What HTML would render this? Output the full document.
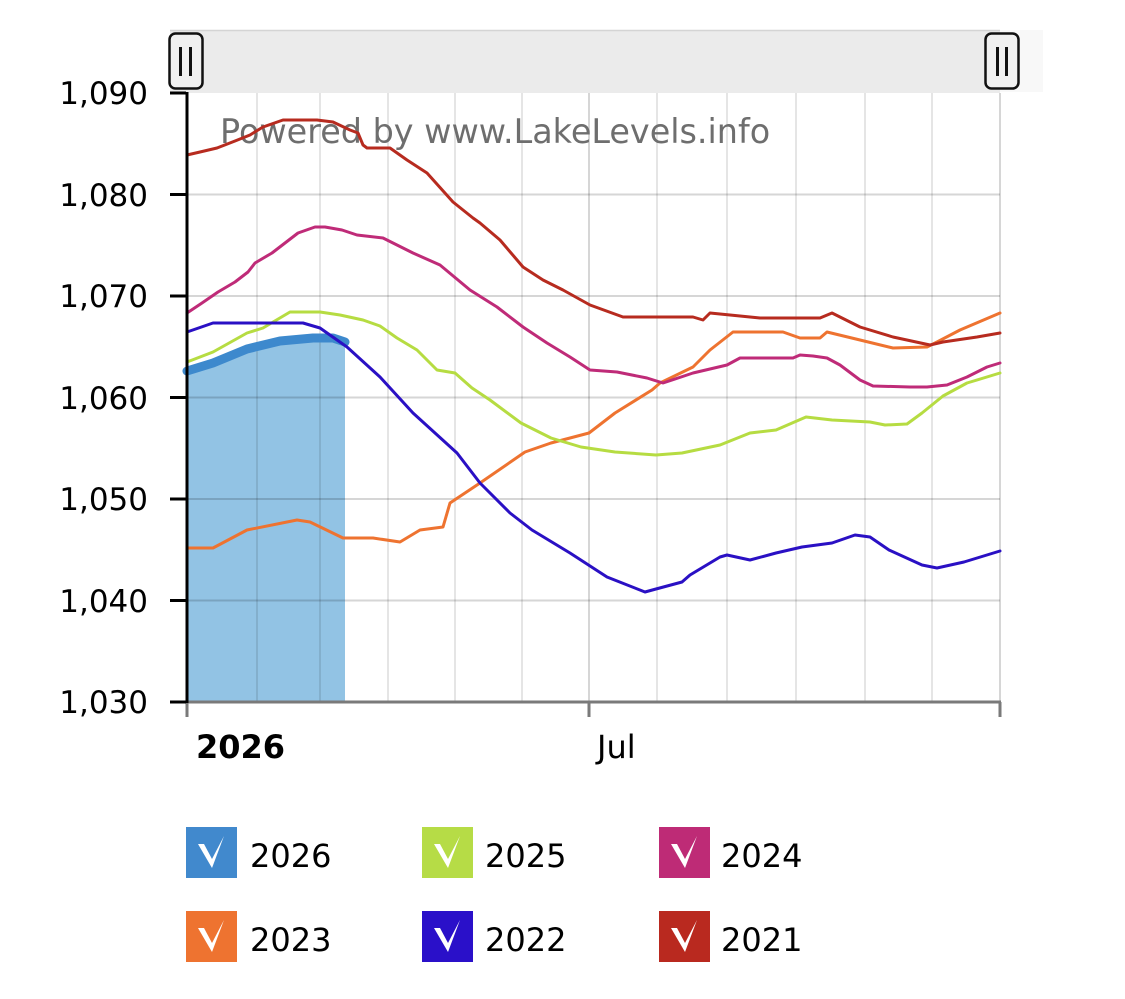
<!DOCTYPE html>
<html>
<head>
<meta charset="utf-8">
<style>
html,body{margin:0;padding:0;background:#fff;}
svg{display:block;font-family:"DejaVu Sans","Liberation Sans",sans-serif;}
</style>
</head>
<body>
<svg width="1125" height="999" viewBox="0 0 1125 999" xmlns="http://www.w3.org/2000/svg">
<rect x="0" y="0" width="1125" height="999" fill="#fff"/>

<!-- scrollbar / navigator -->
<rect x="1000" y="30" width="43" height="62" fill="#f8f8f8"/>
<rect x="170" y="30" width="830" height="63" fill="#ebebeb"/>
<line x1="170" y1="30.5" x2="1000" y2="30.5" stroke="#d4d4d4" stroke-width="1.5"/>

<!-- 2026 fill -->
<polygon points="187,702 187,371 213,363 247,349 280,341 313,338 333,338 345,342 345,702" fill="#92c3e4"/>

<!-- vertical grid -->
<g stroke="rgba(0,0,0,0.1)" stroke-width="2">
<line x1="257" y1="93" x2="257" y2="702"/>
<line x1="320" y1="93" x2="320" y2="702"/>
<line x1="388" y1="93" x2="388" y2="702"/>
<line x1="455" y1="93" x2="455" y2="702"/>
<line x1="522" y1="93" x2="522" y2="702"/>
<line x1="657" y1="93" x2="657" y2="702"/>
<line x1="727" y1="93" x2="727" y2="702"/>
<line x1="796" y1="93" x2="796" y2="702"/>
<line x1="865" y1="93" x2="865" y2="702"/>
<line x1="932" y1="93" x2="932" y2="702"/>
</g>
<g stroke="rgba(0,0,0,0.16)" stroke-width="2">
<line x1="589" y1="93" x2="589" y2="702"/>
<line x1="1000" y1="93" x2="1000" y2="702"/>
<!-- horizontal grid -->
<line x1="187" y1="194.5" x2="1000" y2="194.5"/>
<line x1="187" y1="296" x2="1000" y2="296"/>
<line x1="187" y1="397.5" x2="1000" y2="397.5"/>
<line x1="187" y1="499" x2="1000" y2="499"/>
<line x1="187" y1="600.5" x2="1000" y2="600.5"/>
</g>

<!-- watermark -->
<text x="220" y="143" font-size="33.4" fill="#6e6e6e">Powered by www.LakeLevels.info</text>

<!-- series -->
<g fill="none" stroke-linejoin="round" stroke-linecap="round">
<polyline stroke="#3d89cd" stroke-width="9" points="187,371 213,363 247,349 280,341 313,338 333,338 345,342"/>
<polyline stroke="#ee7330" stroke-width="3" points="187,548 213,548 247,530 297,520 310,522 343,538 373,538 400,542 420,530 443,527 450,503 480,483 525,452 551,443 589,433 615,413 652,390 660,383 693,367 710,350 733,332 783,332 800,338 820,338 827,332 860,340 893,348 927,347 937,342 960,330 1000,313"/>
<polyline stroke="#b6dc42" stroke-width="3" points="187,362 213,352 247,333 263,328 290,312 320,312 340,315 363,320 380,326 397,338 417,350 437,370 455,373 472,388 490,400 521,423 551,438 581,447 615,452 656,455 682,453 720,445 750,433 776,430 806,417 832,420 870,422 885,425 907,424 922,413 943,396 967,383 1000,373"/>
<polyline stroke="#bf2b78" stroke-width="3" points="187,313 202,303 218,292 235,282 248,272 255,263 272,253 285,243 298,233 315,227 325,227 342,230 357,235 383,238 413,253 440,265 470,290 497,307 523,327 547,343 570,357 590,370 617,372 647,378 663,383 693,373 727,365 740,358 793,358 800,355 813,356 827,358 840,365 860,380 873,386 910,387 927,387 947,385 967,377 987,367 1000,363"/>
<polyline stroke="#2a10c4" stroke-width="3" points="187,332 213,323 303,323 320,328 347,347 380,377 413,413 457,453 480,483 510,513 532,530 570,553 607,577 645,592 656,589 682,582 690,575 720,557 727,555 750,560 776,553 802,547 832,543 855,535 870,537 889,550 922,565 937,568 964,562 1000,551"/>
<polyline stroke="#b72b1f" stroke-width="3" points="187,155 200,152 217,148 235,141 250,135 263,127 283,120 317,120 333,122 350,130 358,133 363,145 367,148 390,148 407,160 427,173 453,202 473,218 480,223 500,240 523,267 543,280 563,290 590,305 623,317 670,317 693,317 703,320 710,313 760,318 820,318 832,313 860,327 893,337 930,345 943,342 977,337 1000,333"/>
</g>

<!-- handles -->
<rect x="169.5" y="33.5" width="33" height="55" rx="6" fill="#f0f0f0" stroke="#111" stroke-width="2.5"/>
<line x1="180.5" y1="47" x2="180.5" y2="76" stroke="#111" stroke-width="3"/>
<line x1="190.5" y1="47" x2="190.5" y2="76" stroke="#111" stroke-width="3"/>
<rect x="985.5" y="33.5" width="33" height="55" rx="6" fill="#f0f0f0" stroke="#111" stroke-width="2.5"/>
<line x1="997.5" y1="47" x2="997.5" y2="76" stroke="#111" stroke-width="3"/>
<line x1="1006.5" y1="47" x2="1006.5" y2="76" stroke="#111" stroke-width="3"/>

<!-- axes -->
<line x1="187" y1="702" x2="1001" y2="702" stroke="#7a7a7a" stroke-width="3"/>
<g stroke="#7a7a7a" stroke-width="3">
<line x1="187" y1="702" x2="187" y2="717"/>
<line x1="589" y1="702" x2="589" y2="717"/>
<line x1="1000" y1="702" x2="1000" y2="717"/>
</g>
<line x1="187" y1="92" x2="187" y2="703" stroke="#000" stroke-width="3"/>
<g stroke="#000" stroke-width="3">
<line x1="170" y1="93" x2="186" y2="93"/>
<line x1="170" y1="194.5" x2="186" y2="194.5"/>
<line x1="170" y1="296" x2="186" y2="296"/>
<line x1="170" y1="397.5" x2="186" y2="397.5"/>
<line x1="170" y1="499" x2="186" y2="499"/>
<line x1="170" y1="600.5" x2="186" y2="600.5"/>
<line x1="170" y1="702" x2="186" y2="702"/>
</g>

<!-- y labels -->
<g font-size="31" fill="#000" text-anchor="end">
<text x="148" y="104">1,090</text>
<text x="148" y="206">1,080</text>
<text x="148" y="307">1,070</text>
<text x="148" y="409">1,060</text>
<text x="148" y="510">1,050</text>
<text x="148" y="612">1,040</text>
<text x="148" y="713">1,030</text>
</g>

<!-- x labels -->
<text x="196" y="758" font-size="32" font-weight="bold" fill="#000">2026</text>
<text x="597" y="758" font-size="32" fill="#000">Jul</text>

<!-- legend -->
<g>
<rect x="186" y="827" width="51" height="51" fill="#4189cd"/>
<rect x="422" y="827" width="51" height="51" fill="#b6dc46"/>
<rect x="659" y="827" width="51" height="51" fill="#be2b76"/>
<rect x="186" y="911" width="51" height="51" fill="#ee7330"/>
<rect x="422" y="911" width="51" height="51" fill="#2a10c9"/>
<rect x="659" y="911" width="51" height="51" fill="#b9291f"/>
<g fill="#fff">
<polygon transform="translate(186,827)" points="12,17 18,17 26,32 38,9 26,41"/>
<polygon transform="translate(422,827)" points="12,17 18,17 26,32 38,9 26,41"/>
<polygon transform="translate(659,827)" points="12,17 18,17 26,32 38,9 26,41"/>
<polygon transform="translate(186,911)" points="12,17 18,17 26,32 38,9 26,41"/>
<polygon transform="translate(422,911)" points="12,17 18,17 26,32 38,9 26,41"/>
<polygon transform="translate(659,911)" points="12,17 18,17 26,32 38,9 26,41"/>
</g>
<g font-size="32" fill="#000">
<text x="250" y="867">2026</text>
<text x="485" y="867">2025</text>
<text x="721" y="867">2024</text>
<text x="250" y="951">2023</text>
<text x="485" y="951">2022</text>
<text x="721" y="951">2021</text>
</g>
</g>
</svg>
</body>
</html>
